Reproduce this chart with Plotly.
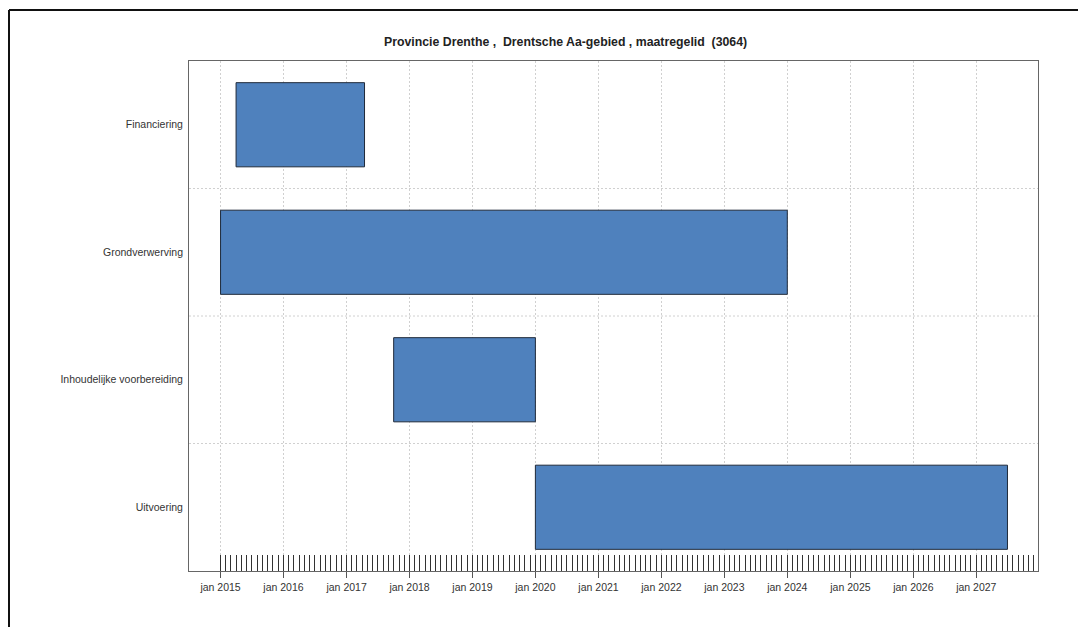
import pandas as pd
import plotly.graph_objects as go

# ---- data ----
tasks = ["Financiering", "Grondverwerving", "Inhoudelijke voorbereiding", "Uitvoering"]
starts = ["2015-04-01", "2015-01-01", "2017-10-01", "2020-01-01"]
ends = ["2017-04-15", "2024-01-01", "2020-01-01", "2027-07-01"]
tick_years = list(range(2015, 2028))
tick_labels = [f"jan {y}" for y in tick_years]
title_text = "Provincie Drenthe ,  Drentsche Aa-gebied , maatregelid  (3064)"

OFF = 8  # page body margin
W, H = 1086 - OFF, 627 - OFF
# plot area in page pixels
L, R, T, B = 189, 1038, 61, 571
Lf, Rf, Tf, Bf = L - OFF, R - OFF, T - OFF, B - OFF  # in figure pixels

s = pd.to_datetime(starts)
e = pd.to_datetime(ends)
dur_ms = [(b - a).total_seconds() * 1000 for a, b in zip(s, e)]

fig = go.Figure()
fig.add_trace(go.Bar(
    y=tasks,
    x=dur_ms,
    base=[d.strftime("%Y-%m-%d") for d in s],
    orientation="h",
    width=0.66,
    marker=dict(color="#4f81bd", line=dict(color="#1f2a3a", width=1)),
    showlegend=False,
))

tickvals = [f"{y}-01-01" for y in tick_years]
minor_vals = [d.strftime("%Y-%m-%d") for d in pd.date_range("2015-01-01", "2027-12-01", freq="MS")]

def px_x(px):  # page pixel -> paper x
    return (px - L) / (R - L)

def px_y(py):  # page pixel -> paper y
    return (B - py) / (B - T)

shapes = []
for yv in [0.5, 1.5, 2.5]:
    shapes.append(dict(type="line", xref="paper", yref="y", x0=0, x1=1, y0=yv, y1=yv,
                       line=dict(color="#d0d0d0", width=1, dash="2px,2px"), layer="below"))
# outer frame (top & left)
shapes.append(dict(type="line", xref="paper", yref="paper",
                   x0=px_x(9), x1=px_x(1100), y0=px_y(10), y1=px_y(10),
                   line=dict(color="#111111", width=2)))
shapes.append(dict(type="line", xref="paper", yref="paper",
                   x0=px_x(9), x1=px_x(9), y0=px_y(10), y1=px_y(640),
                   line=dict(color="#111111", width=2)))

fig.update_layout(
    width=W, height=H,
    margin=dict(l=Lf, r=W - Rf, t=Tf, b=H - Bf, pad=0),
    paper_bgcolor="white", plot_bgcolor="white",
    font=dict(family="Liberation Sans, Arial, sans-serif", size=10.5, color="#333333"),
    shapes=shapes,
    annotations=[dict(
        text=f"<b>{title_text}</b>", x=px_x(565), y=px_y(42),
        xref="paper", yref="paper", showarrow=False,
        font=dict(size=12.3, color="#222222"), xanchor="center", yanchor="middle")],
)

fig.update_xaxes(
    type="date",
    range=["2014-07-02", "2027-12-25"],
    tickmode="array", tickvals=tickvals, ticktext=tick_labels,
    ticks="outside", ticklen=6, tickcolor="#555555", tickwidth=1,
    showgrid=True, gridcolor="#d0d0d0", griddash="2px,2px", gridwidth=1,
    showline=True, linecolor="#666666", linewidth=1, mirror=True,
    zeroline=False,
    tickfont=dict(size=10.5, color="#333333"),
    minor=dict(tickmode="array", tickvals=minor_vals, ticks="inside", ticklen=16,
               tickcolor="#333333", tickwidth=1, showgrid=False),
)
fig.update_yaxes(
    type="category",
    categoryorder="array", categoryarray=tasks,
    autorange="reversed",
    showgrid=False,
    ticks="", ticklen=0,
    showline=True, linecolor="#666666", linewidth=1, mirror=True,
    zeroline=False,
    tickfont=dict(size=10.5, color="#333333"),
    ticksuffix=" ",
)

fig.write_html("out.html")
